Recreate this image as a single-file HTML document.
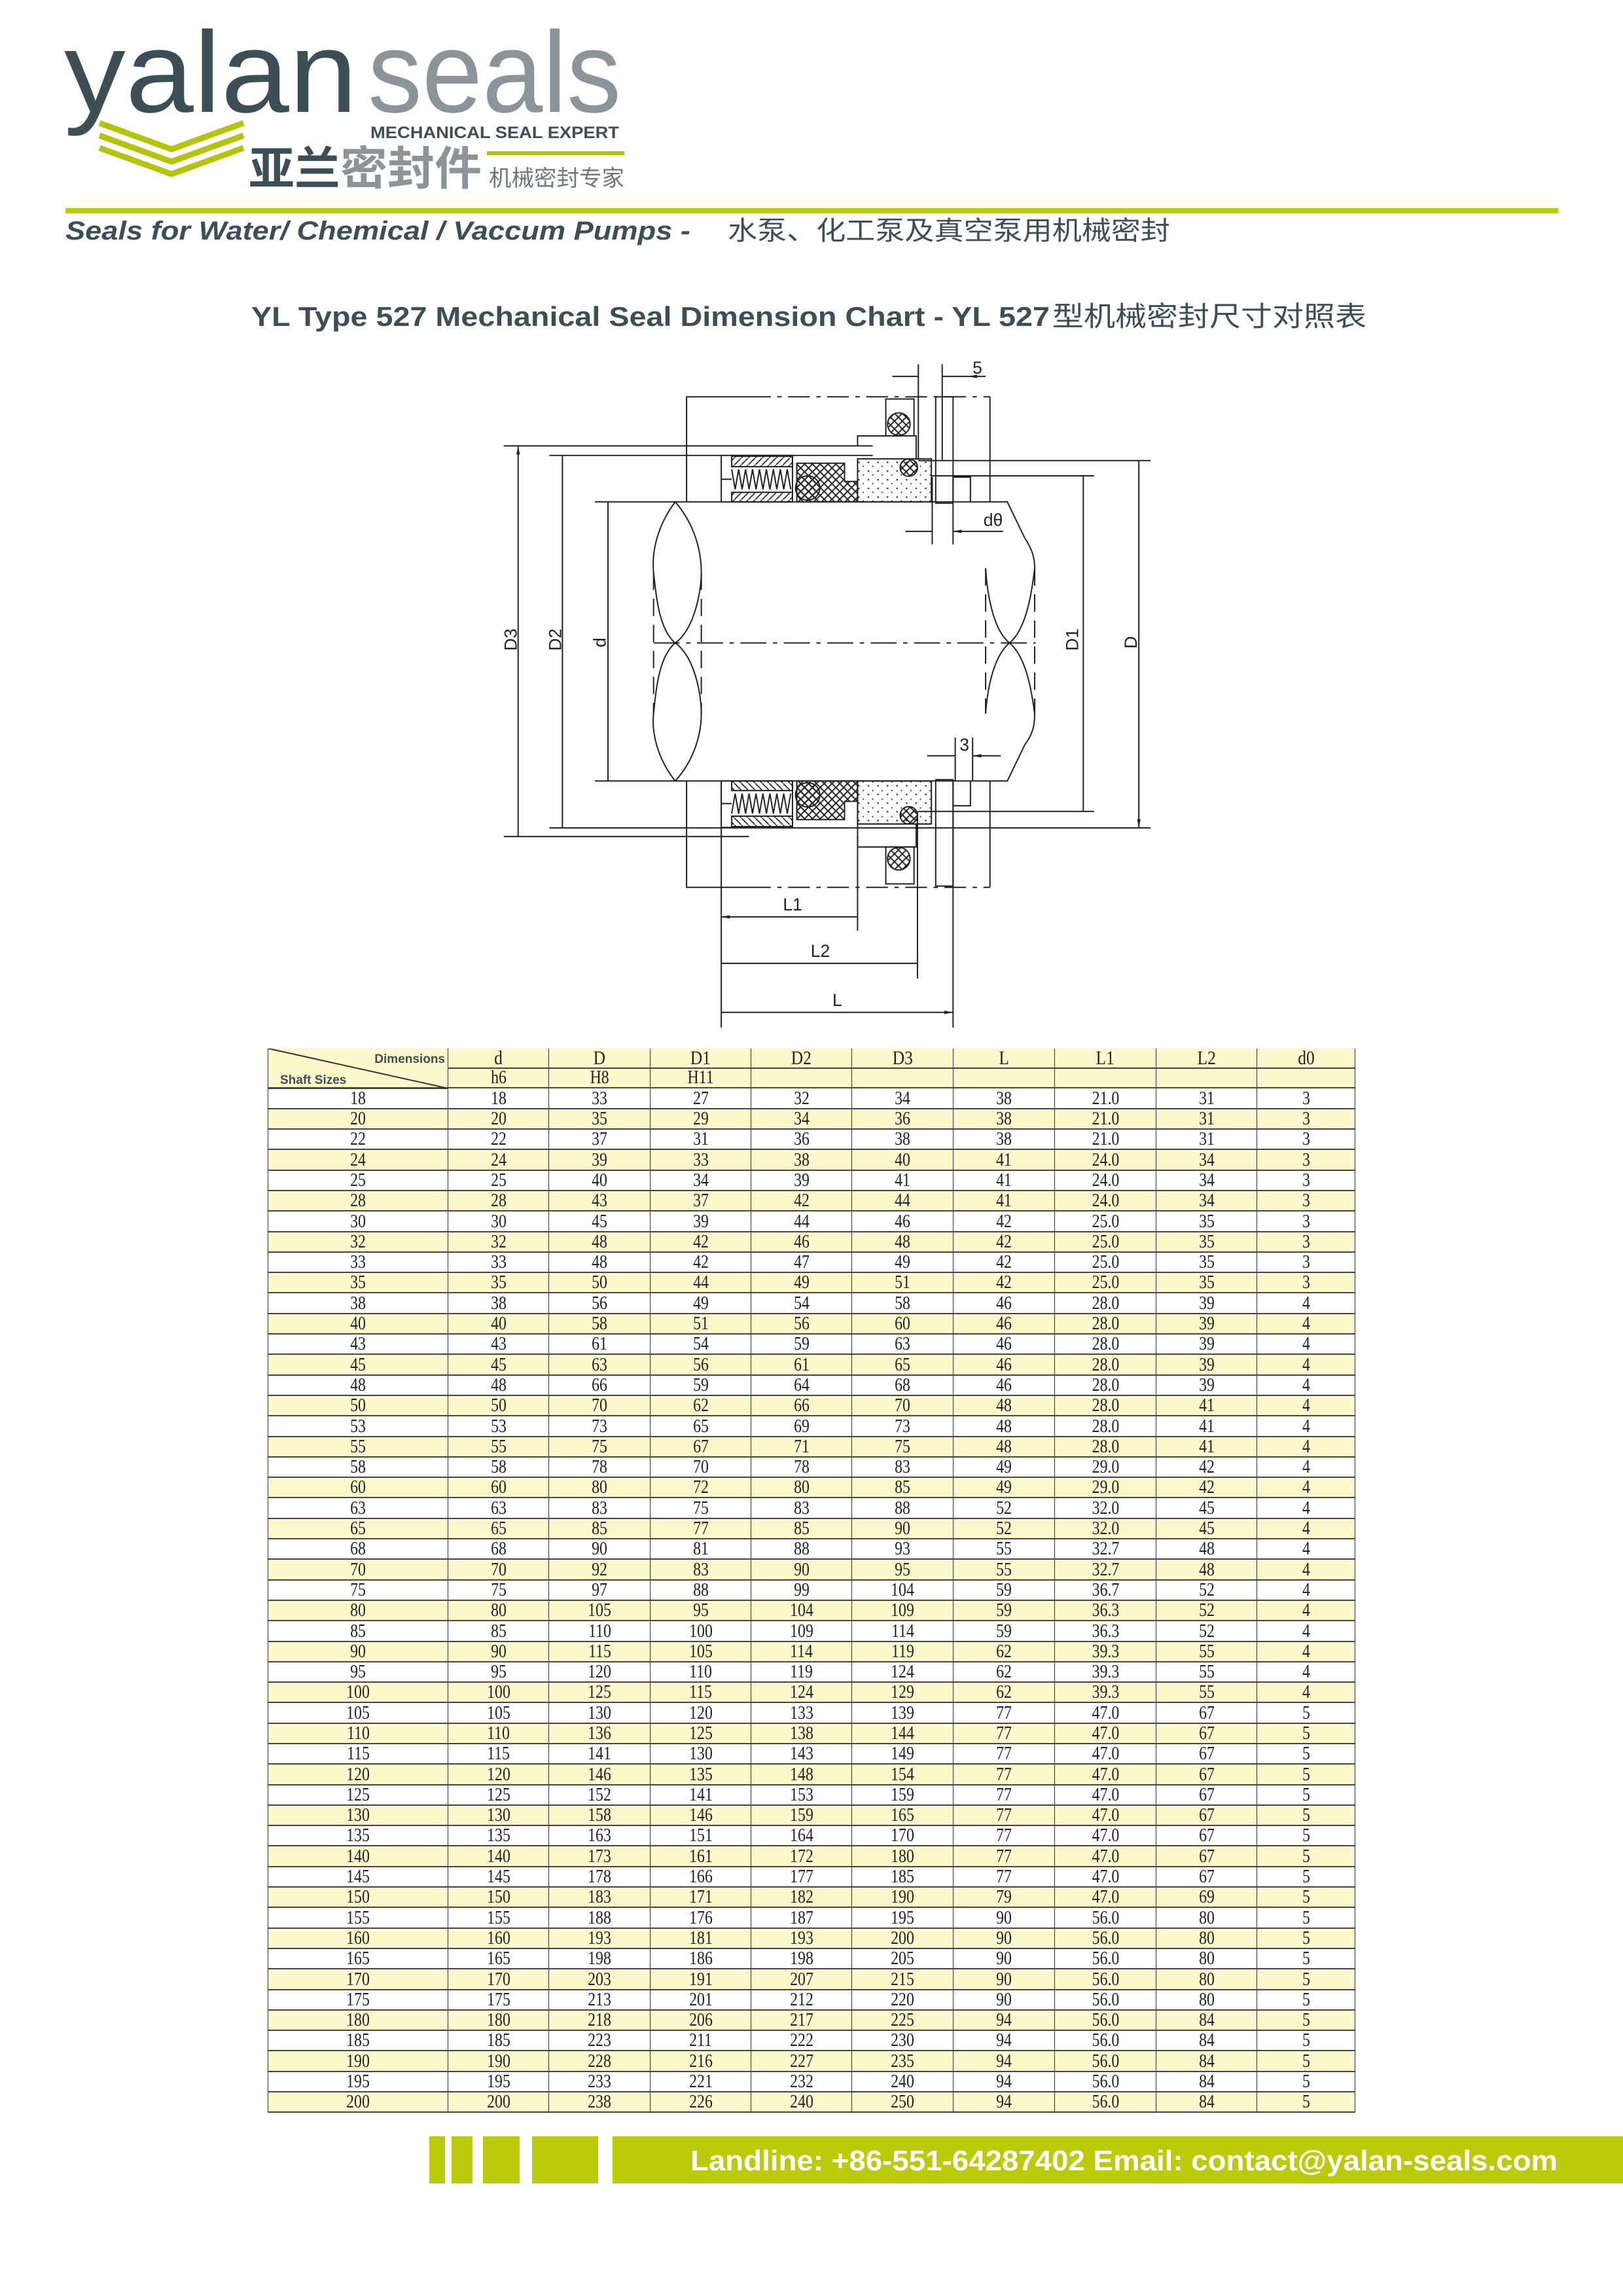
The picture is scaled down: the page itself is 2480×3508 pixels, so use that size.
<!DOCTYPE html>
<html><head><meta charset="utf-8">
<style>
html,body{margin:0;padding:0;background:#fff}
body{width:2480px;height:3508px;position:relative;overflow:hidden}
.abs{position:absolute}
table{position:absolute;left:409px;top:1602px;width:1661px;border-collapse:collapse;table-layout:fixed;font-family:"Liberation Serif",serif;color:#222}
td{border-left:1.5px solid #333;border-right:1.5px solid #333;border-bottom:2.5px solid #444;height:29.3px;padding:0;text-align:center;font-size:28px;line-height:28px;vertical-align:bottom}
tr:nth-child(even) td{background:#fdf9cc}
tr:nth-child(odd) td{background:#fff}
tr.h td{background:#fdf9cc;height:29px;font-size:30px;border-bottom:2px solid #444}
tr.h2 td{background:#fdf9cc;height:28px}
td span{display:inline-block;transform:scaleX(0.85)}
</style></head><body>

<svg class="abs" style="left:0;top:0" width="2480" height="520" viewBox="0 0 2480 520">
<text x="98" y="171" font-family="Liberation Sans, sans-serif" font-size="176" fill="#3c4f56" textLength="448" lengthAdjust="spacingAndGlyphs">yalan</text>
<text x="562" y="171" font-family="Liberation Sans, sans-serif" font-size="176" fill="#8a9499" textLength="387" lengthAdjust="spacingAndGlyphs">seals</text>
<g fill="none" stroke="#b5c40a" stroke-width="9">
<polyline points="152,188 262,228 372,188"/><polyline points="152,207 262,247 372,207"/><polyline points="152,226 262,266 372,226"/>
</g>
<text x="566" y="211" font-family="Liberation Sans, sans-serif" font-weight="bold" font-size="25" fill="#3c4f56" textLength="380" lengthAdjust="spacingAndGlyphs">MECHANICAL SEAL EXPERT</text>
<text x="380" y="282" font-family="Liberation Sans, 'Noto Sans CJK SC', sans-serif" font-weight="bold" font-size="70" fill="#3c4f56" textLength="140" lengthAdjust="spacingAndGlyphs">亚兰</text>
<text x="520" y="282" font-family="Liberation Sans, 'Noto Sans CJK SC', sans-serif" font-weight="bold" font-size="70" fill="#8a9499" textLength="216" lengthAdjust="spacingAndGlyphs">密封件</text>
<rect x="744" y="231" width="210" height="6" fill="#b5c40a"/>
<text x="747" y="284" font-family="Liberation Sans, 'Noto Sans CJK SC', sans-serif" font-size="34" fill="#6d787d" textLength="207" lengthAdjust="spacingAndGlyphs">机械密封专家</text>
<rect x="100" y="318" width="2281" height="8" fill="#bccb08"/>
<text x="100" y="366" font-family="Liberation Sans, 'Noto Sans CJK SC', sans-serif" font-weight="bold" font-style="italic" font-size="40" fill="#3c4f56" textLength="955" lengthAdjust="spacingAndGlyphs">Seals for Water/ Chemical / Vaccum Pumps -</text>
<text x="1112" y="366" font-family="'Noto Sans CJK SC', sans-serif" font-size="40" fill="#3c4f56" textLength="676" lengthAdjust="spacingAndGlyphs">水泵、化工泵及真空泵用机械密封</text>
<text x="384" y="498" font-family="Liberation Sans, 'Noto Sans CJK SC', sans-serif" font-weight="bold" font-size="42" fill="#3c4f56" textLength="1220" lengthAdjust="spacingAndGlyphs">YL Type 527 Mechanical Seal Dimension Chart - YL 527</text>
<text x="1608" y="498" font-family="'Noto Sans CJK SC', sans-serif" font-size="42" fill="#3c4f56" textLength="480" lengthAdjust="spacingAndGlyphs">型机械密封尺寸对照表</text>
</svg>

<svg class="abs" style="left:740px;top:530px" width="1040" height="1040" viewBox="0 0 1568 1568">
<defs>
<marker id="a" viewBox="0 0 20 10" refX="20" refY="5" markerWidth="20" markerHeight="10" orient="auto-start-reverse" markerUnits="userSpaceOnUse"><path d="M0,1 L20,5 L0,9z" fill="#222"/></marker>
<pattern id="x" width="18" height="18" patternUnits="userSpaceOnUse"><path d="M0,0L18,18M18,0L0,18" stroke="#222" stroke-width="3"/></pattern>
<pattern id="h" width="16" height="16" patternUnits="userSpaceOnUse"><path d="M0,16L16,0" stroke="#222" stroke-width="2.5"/></pattern>
<pattern id="dt" width="22" height="20" patternUnits="userSpaceOnUse"><circle cx="5" cy="6" r="2" fill="#333"/><circle cx="15" cy="15" r="1.6" fill="#333"/></pattern>
</defs>
<g stroke="#222" stroke-width="3" fill="none">
<path d="M466,357V115H610"/><path d="M610,115H1165" stroke-dasharray="50,15,10,15"/><path d="M1165,115V357"/>
<path d="M466,1000V1245H610"/><path d="M610,1245H1165" stroke-dasharray="50,15,10,15"/><path d="M1165,1245V1000"/>
<path d="M255,357H1205L1245,440"/><path d="M255,1000H1205L1245,917"/>
<path d="M390,682H1270" stroke-dasharray="60,15,10,15"/>
<path d="M440,357C400,410 385,470 390,520M390,845C385,890 400,950 440,1000" />
<path d="M390,520V845" stroke-dasharray="40,20"/>
<path d="M440,357C485,410 500,470 500,520M500,845C500,890 485,950 440,1000"/>
<path d="M500,520V845" stroke-dasharray="40,20"/>
<path d="M440,682C400,650 395,560 390,520M440,682C400,715 395,800 390,845"/>
<path d="M440,682C485,650 500,560 500,520M440,682C485,715 500,800 500,845"/>
<path d="M1210,682C1250,650 1262,560 1268,510M1210,682C1250,715 1262,800 1268,845"/>
<path d="M1210,682C1170,650 1158,560 1155,510M1210,682C1170,715 1158,800 1155,845"/>
<path d="M1245,440C1265,470 1268,490 1268,510M1245,917C1265,890 1268,870 1268,845"/>
<path d="M1268,510V845M1155,510V845" stroke-dasharray="40,20"/>
<path d="M45,228H895M150,250H895M45,1128H610M150,1108H1535M1000,262H1535M1030,297H1405M1000,1070H1405"/>
<path d="M78,228V1128M180,250V1108M285,357V1000M1380,297V1070M1508,262V1108" marker-start="url(#a)" marker-end="url(#a)"/>
<path d="M546,1000V1568M860,1000V1345M998,1070V1455M1080,1000V1568"/>
<path d="M546,1313H860M546,1420H998M546,1533H1080" marker-start="url(#a)" marker-end="url(#a)"/>
<path d="M1000,40V260M1055,40V260"/>
<path d="M940,68H1000M1115,68H1055M1155,68H1115" marker-end="url(#a)"/>
<path d="M1032,300V455M1080,300V455"/>
<path d="M970,425H1032M1195,425H1080" marker-end="url(#a)"/>
<path d="M1085,900V1000M1125,900V1000"/>
<path d="M1020,942H1085M1190,942H1125" marker-end="url(#a)"/>
<g id="top">
<path d="M860,228V205H995V260"/>
<rect x="925" y="120" width="65" height="85"/>
<circle cx="955" cy="178" r="26" fill="url(#x)"/>
<rect x="546" y="250" width="164" height="107" fill="#fff"/>
<rect x="570" y="252" width="140" height="24" fill="url(#h)"/>
<rect x="570" y="335" width="140" height="22" fill="url(#h)"/>
<polyline points="570,282 578,328 586,282 594,328 602,282 610,328 618,282 626,328 634,282 642,328 650,282 658,328 666,282 674,328 682,282 690,328 698,282 706,328"/>
<path d="M546,305H570"/>
<path d="M720,268H830V310H860V357H720Z" fill="url(#x)"/>
<circle cx="745" cy="325" r="28" fill="url(#x)"/>
<rect x="860" y="258" width="170" height="99" fill="url(#dt)"/>
<circle cx="978" cy="278" r="20" fill="url(#x)"/>
<rect x="1040" y="115" width="40" height="245"/>
<path d="M1080,300H1120V357"/>
</g>
<use href="#top" transform="translate(0,1357) scale(1,-1)"/>
</g>
<g font-family="Liberation Sans, sans-serif" font-size="40" fill="#222">
<text x="1125" y="62">5</text>
<text x="1150" y="412">dθ</text>
<text x="1095" y="930">3</text>
<text x="688" y="1298">L1</text>
<text x="752" y="1405">L2</text>
<text x="802" y="1518">L</text>
<text transform="translate(75,700) rotate(-90)">D3</text>
<text transform="translate(177,700) rotate(-90)">D2</text>
<text transform="translate(280,692) rotate(-90)">d</text>
<text transform="translate(1368,700) rotate(-90)">D1</text>
<text transform="translate(1503,695) rotate(-90)">D</text>
</g>
</svg>

<table>
<colgroup><col style="width:275px"><col style="width:154px"><col style="width:155px"><col style="width:154px"><col style="width:154px"><col style="width:155px"><col style="width:155px"><col style="width:155px"><col style="width:154px"><col style="width:150px"></colgroup>
<tr class="h"><td rowspan="2" style="position:relative;border-bottom:3px solid #444"><svg style="position:absolute;left:0;top:0" width="275" height="61"><line x1="0" y1="0" x2="275" y2="61" stroke="#333" stroke-width="2"/><text x="270" y="22" text-anchor="end" font-family="Liberation Sans, sans-serif" font-weight="bold" font-size="19" fill="#3c4f56">Dimensions</text><text x="18" y="54" font-family="Liberation Sans, sans-serif" font-weight="bold" font-size="19" fill="#3c4f56">Shaft Sizes</text></svg></td><td><span>d</span></td><td><span>D</span></td><td><span>D1</span></td><td><span>D2</span></td><td><span>D3</span></td><td><span>L</span></td><td><span>L1</span></td><td><span>L2</span></td><td><span>d0</span></td></tr>
<tr class="h2"><td><span>h6</span></td><td><span>H8</span></td><td><span>H11</span></td><td></td><td></td><td></td><td></td><td></td><td></td></tr>
<tr><td><span>18</span></td><td><span>18</span></td><td><span>33</span></td><td><span>27</span></td><td><span>32</span></td><td><span>34</span></td><td><span>38</span></td><td><span>21.0</span></td><td><span>31</span></td><td><span>3</span></td></tr>
<tr><td><span>20</span></td><td><span>20</span></td><td><span>35</span></td><td><span>29</span></td><td><span>34</span></td><td><span>36</span></td><td><span>38</span></td><td><span>21.0</span></td><td><span>31</span></td><td><span>3</span></td></tr>
<tr><td><span>22</span></td><td><span>22</span></td><td><span>37</span></td><td><span>31</span></td><td><span>36</span></td><td><span>38</span></td><td><span>38</span></td><td><span>21.0</span></td><td><span>31</span></td><td><span>3</span></td></tr>
<tr><td><span>24</span></td><td><span>24</span></td><td><span>39</span></td><td><span>33</span></td><td><span>38</span></td><td><span>40</span></td><td><span>41</span></td><td><span>24.0</span></td><td><span>34</span></td><td><span>3</span></td></tr>
<tr><td><span>25</span></td><td><span>25</span></td><td><span>40</span></td><td><span>34</span></td><td><span>39</span></td><td><span>41</span></td><td><span>41</span></td><td><span>24.0</span></td><td><span>34</span></td><td><span>3</span></td></tr>
<tr><td><span>28</span></td><td><span>28</span></td><td><span>43</span></td><td><span>37</span></td><td><span>42</span></td><td><span>44</span></td><td><span>41</span></td><td><span>24.0</span></td><td><span>34</span></td><td><span>3</span></td></tr>
<tr><td><span>30</span></td><td><span>30</span></td><td><span>45</span></td><td><span>39</span></td><td><span>44</span></td><td><span>46</span></td><td><span>42</span></td><td><span>25.0</span></td><td><span>35</span></td><td><span>3</span></td></tr>
<tr><td><span>32</span></td><td><span>32</span></td><td><span>48</span></td><td><span>42</span></td><td><span>46</span></td><td><span>48</span></td><td><span>42</span></td><td><span>25.0</span></td><td><span>35</span></td><td><span>3</span></td></tr>
<tr><td><span>33</span></td><td><span>33</span></td><td><span>48</span></td><td><span>42</span></td><td><span>47</span></td><td><span>49</span></td><td><span>42</span></td><td><span>25.0</span></td><td><span>35</span></td><td><span>3</span></td></tr>
<tr><td><span>35</span></td><td><span>35</span></td><td><span>50</span></td><td><span>44</span></td><td><span>49</span></td><td><span>51</span></td><td><span>42</span></td><td><span>25.0</span></td><td><span>35</span></td><td><span>3</span></td></tr>
<tr><td><span>38</span></td><td><span>38</span></td><td><span>56</span></td><td><span>49</span></td><td><span>54</span></td><td><span>58</span></td><td><span>46</span></td><td><span>28.0</span></td><td><span>39</span></td><td><span>4</span></td></tr>
<tr><td><span>40</span></td><td><span>40</span></td><td><span>58</span></td><td><span>51</span></td><td><span>56</span></td><td><span>60</span></td><td><span>46</span></td><td><span>28.0</span></td><td><span>39</span></td><td><span>4</span></td></tr>
<tr><td><span>43</span></td><td><span>43</span></td><td><span>61</span></td><td><span>54</span></td><td><span>59</span></td><td><span>63</span></td><td><span>46</span></td><td><span>28.0</span></td><td><span>39</span></td><td><span>4</span></td></tr>
<tr><td><span>45</span></td><td><span>45</span></td><td><span>63</span></td><td><span>56</span></td><td><span>61</span></td><td><span>65</span></td><td><span>46</span></td><td><span>28.0</span></td><td><span>39</span></td><td><span>4</span></td></tr>
<tr><td><span>48</span></td><td><span>48</span></td><td><span>66</span></td><td><span>59</span></td><td><span>64</span></td><td><span>68</span></td><td><span>46</span></td><td><span>28.0</span></td><td><span>39</span></td><td><span>4</span></td></tr>
<tr><td><span>50</span></td><td><span>50</span></td><td><span>70</span></td><td><span>62</span></td><td><span>66</span></td><td><span>70</span></td><td><span>48</span></td><td><span>28.0</span></td><td><span>41</span></td><td><span>4</span></td></tr>
<tr><td><span>53</span></td><td><span>53</span></td><td><span>73</span></td><td><span>65</span></td><td><span>69</span></td><td><span>73</span></td><td><span>48</span></td><td><span>28.0</span></td><td><span>41</span></td><td><span>4</span></td></tr>
<tr><td><span>55</span></td><td><span>55</span></td><td><span>75</span></td><td><span>67</span></td><td><span>71</span></td><td><span>75</span></td><td><span>48</span></td><td><span>28.0</span></td><td><span>41</span></td><td><span>4</span></td></tr>
<tr><td><span>58</span></td><td><span>58</span></td><td><span>78</span></td><td><span>70</span></td><td><span>78</span></td><td><span>83</span></td><td><span>49</span></td><td><span>29.0</span></td><td><span>42</span></td><td><span>4</span></td></tr>
<tr><td><span>60</span></td><td><span>60</span></td><td><span>80</span></td><td><span>72</span></td><td><span>80</span></td><td><span>85</span></td><td><span>49</span></td><td><span>29.0</span></td><td><span>42</span></td><td><span>4</span></td></tr>
<tr><td><span>63</span></td><td><span>63</span></td><td><span>83</span></td><td><span>75</span></td><td><span>83</span></td><td><span>88</span></td><td><span>52</span></td><td><span>32.0</span></td><td><span>45</span></td><td><span>4</span></td></tr>
<tr><td><span>65</span></td><td><span>65</span></td><td><span>85</span></td><td><span>77</span></td><td><span>85</span></td><td><span>90</span></td><td><span>52</span></td><td><span>32.0</span></td><td><span>45</span></td><td><span>4</span></td></tr>
<tr><td><span>68</span></td><td><span>68</span></td><td><span>90</span></td><td><span>81</span></td><td><span>88</span></td><td><span>93</span></td><td><span>55</span></td><td><span>32.7</span></td><td><span>48</span></td><td><span>4</span></td></tr>
<tr><td><span>70</span></td><td><span>70</span></td><td><span>92</span></td><td><span>83</span></td><td><span>90</span></td><td><span>95</span></td><td><span>55</span></td><td><span>32.7</span></td><td><span>48</span></td><td><span>4</span></td></tr>
<tr><td><span>75</span></td><td><span>75</span></td><td><span>97</span></td><td><span>88</span></td><td><span>99</span></td><td><span>104</span></td><td><span>59</span></td><td><span>36.7</span></td><td><span>52</span></td><td><span>4</span></td></tr>
<tr><td><span>80</span></td><td><span>80</span></td><td><span>105</span></td><td><span>95</span></td><td><span>104</span></td><td><span>109</span></td><td><span>59</span></td><td><span>36.3</span></td><td><span>52</span></td><td><span>4</span></td></tr>
<tr><td><span>85</span></td><td><span>85</span></td><td><span>110</span></td><td><span>100</span></td><td><span>109</span></td><td><span>114</span></td><td><span>59</span></td><td><span>36.3</span></td><td><span>52</span></td><td><span>4</span></td></tr>
<tr><td><span>90</span></td><td><span>90</span></td><td><span>115</span></td><td><span>105</span></td><td><span>114</span></td><td><span>119</span></td><td><span>62</span></td><td><span>39.3</span></td><td><span>55</span></td><td><span>4</span></td></tr>
<tr><td><span>95</span></td><td><span>95</span></td><td><span>120</span></td><td><span>110</span></td><td><span>119</span></td><td><span>124</span></td><td><span>62</span></td><td><span>39.3</span></td><td><span>55</span></td><td><span>4</span></td></tr>
<tr><td><span>100</span></td><td><span>100</span></td><td><span>125</span></td><td><span>115</span></td><td><span>124</span></td><td><span>129</span></td><td><span>62</span></td><td><span>39.3</span></td><td><span>55</span></td><td><span>4</span></td></tr>
<tr><td><span>105</span></td><td><span>105</span></td><td><span>130</span></td><td><span>120</span></td><td><span>133</span></td><td><span>139</span></td><td><span>77</span></td><td><span>47.0</span></td><td><span>67</span></td><td><span>5</span></td></tr>
<tr><td><span>110</span></td><td><span>110</span></td><td><span>136</span></td><td><span>125</span></td><td><span>138</span></td><td><span>144</span></td><td><span>77</span></td><td><span>47.0</span></td><td><span>67</span></td><td><span>5</span></td></tr>
<tr><td><span>115</span></td><td><span>115</span></td><td><span>141</span></td><td><span>130</span></td><td><span>143</span></td><td><span>149</span></td><td><span>77</span></td><td><span>47.0</span></td><td><span>67</span></td><td><span>5</span></td></tr>
<tr><td><span>120</span></td><td><span>120</span></td><td><span>146</span></td><td><span>135</span></td><td><span>148</span></td><td><span>154</span></td><td><span>77</span></td><td><span>47.0</span></td><td><span>67</span></td><td><span>5</span></td></tr>
<tr><td><span>125</span></td><td><span>125</span></td><td><span>152</span></td><td><span>141</span></td><td><span>153</span></td><td><span>159</span></td><td><span>77</span></td><td><span>47.0</span></td><td><span>67</span></td><td><span>5</span></td></tr>
<tr><td><span>130</span></td><td><span>130</span></td><td><span>158</span></td><td><span>146</span></td><td><span>159</span></td><td><span>165</span></td><td><span>77</span></td><td><span>47.0</span></td><td><span>67</span></td><td><span>5</span></td></tr>
<tr><td><span>135</span></td><td><span>135</span></td><td><span>163</span></td><td><span>151</span></td><td><span>164</span></td><td><span>170</span></td><td><span>77</span></td><td><span>47.0</span></td><td><span>67</span></td><td><span>5</span></td></tr>
<tr><td><span>140</span></td><td><span>140</span></td><td><span>173</span></td><td><span>161</span></td><td><span>172</span></td><td><span>180</span></td><td><span>77</span></td><td><span>47.0</span></td><td><span>67</span></td><td><span>5</span></td></tr>
<tr><td><span>145</span></td><td><span>145</span></td><td><span>178</span></td><td><span>166</span></td><td><span>177</span></td><td><span>185</span></td><td><span>77</span></td><td><span>47.0</span></td><td><span>67</span></td><td><span>5</span></td></tr>
<tr><td><span>150</span></td><td><span>150</span></td><td><span>183</span></td><td><span>171</span></td><td><span>182</span></td><td><span>190</span></td><td><span>79</span></td><td><span>47.0</span></td><td><span>69</span></td><td><span>5</span></td></tr>
<tr><td><span>155</span></td><td><span>155</span></td><td><span>188</span></td><td><span>176</span></td><td><span>187</span></td><td><span>195</span></td><td><span>90</span></td><td><span>56.0</span></td><td><span>80</span></td><td><span>5</span></td></tr>
<tr><td><span>160</span></td><td><span>160</span></td><td><span>193</span></td><td><span>181</span></td><td><span>193</span></td><td><span>200</span></td><td><span>90</span></td><td><span>56.0</span></td><td><span>80</span></td><td><span>5</span></td></tr>
<tr><td><span>165</span></td><td><span>165</span></td><td><span>198</span></td><td><span>186</span></td><td><span>198</span></td><td><span>205</span></td><td><span>90</span></td><td><span>56.0</span></td><td><span>80</span></td><td><span>5</span></td></tr>
<tr><td><span>170</span></td><td><span>170</span></td><td><span>203</span></td><td><span>191</span></td><td><span>207</span></td><td><span>215</span></td><td><span>90</span></td><td><span>56.0</span></td><td><span>80</span></td><td><span>5</span></td></tr>
<tr><td><span>175</span></td><td><span>175</span></td><td><span>213</span></td><td><span>201</span></td><td><span>212</span></td><td><span>220</span></td><td><span>90</span></td><td><span>56.0</span></td><td><span>80</span></td><td><span>5</span></td></tr>
<tr><td><span>180</span></td><td><span>180</span></td><td><span>218</span></td><td><span>206</span></td><td><span>217</span></td><td><span>225</span></td><td><span>94</span></td><td><span>56.0</span></td><td><span>84</span></td><td><span>5</span></td></tr>
<tr><td><span>185</span></td><td><span>185</span></td><td><span>223</span></td><td><span>211</span></td><td><span>222</span></td><td><span>230</span></td><td><span>94</span></td><td><span>56.0</span></td><td><span>84</span></td><td><span>5</span></td></tr>
<tr><td><span>190</span></td><td><span>190</span></td><td><span>228</span></td><td><span>216</span></td><td><span>227</span></td><td><span>235</span></td><td><span>94</span></td><td><span>56.0</span></td><td><span>84</span></td><td><span>5</span></td></tr>
<tr><td><span>195</span></td><td><span>195</span></td><td><span>233</span></td><td><span>221</span></td><td><span>232</span></td><td><span>240</span></td><td><span>94</span></td><td><span>56.0</span></td><td><span>84</span></td><td><span>5</span></td></tr>
<tr><td><span>200</span></td><td><span>200</span></td><td><span>238</span></td><td><span>226</span></td><td><span>240</span></td><td><span>250</span></td><td><span>94</span></td><td><span>56.0</span></td><td><span>84</span></td><td><span>5</span></td></tr>
</table>

<div class="abs" style="left:656px;top:3264px;width:24px;height:72px;background:#bccb08"></div>
<div class="abs" style="left:690px;top:3264px;width:32px;height:72px;background:#bccb08"></div>
<div class="abs" style="left:738px;top:3264px;width:56px;height:72px;background:#bccb08"></div>
<div class="abs" style="left:813px;top:3264px;width:101px;height:72px;background:#bccb08"></div>
<div class="abs" style="left:936px;top:3264px;width:1544px;height:72px;background:#bccb08"></div>
<svg class="abs" style="left:0;top:3264px" width="2480" height="72"><text x="1055" y="52" font-family="Liberation Sans, sans-serif" font-weight="bold" font-size="44" fill="#fff" textLength="1325" lengthAdjust="spacingAndGlyphs">Landline: +86-551-64287402 Email: contact@yalan-seals.com</text></svg>
</body></html>
